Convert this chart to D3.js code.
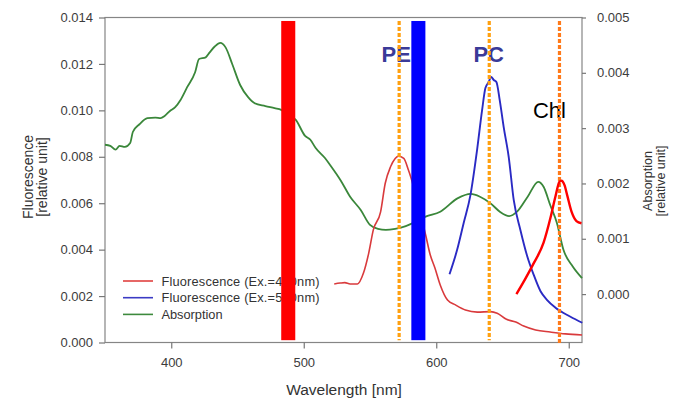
<!DOCTYPE html>
<html>
<head>
<meta charset="utf-8">
<script src="https://cdn.jsdelivr.net/npm/d3@7"></script>
<style>
body { margin: 0; background: #fff; }
text { font-family: "Liberation Sans", Arial, sans-serif; }
</style>
</head>
<body>
<svg id="chart" width="681" height="398"></svg>
<script>
// absorption spectrum (right axis)
var absWl = [350,354,358,361,365,369,371,376,382,388,392,395,399,403,407,412,418,421,426,429,433,437,441,446,452,458,463,471,478,483,488,494,501,505,509,516,520,528,535,543,550,556,562,569,577,581,586,592,603,616,626,633,641,648,655,661,669,677,681,686,691,696,703,710];
var absVal = [0.00270,0.00268,0.00261,0.00268,0.00266,0.00273,0.00293,0.00307,0.00318,0.00319,0.00318,0.00322,0.00331,0.00338,0.00351,0.00374,0.00401,0.00425,0.00428,0.00437,0.00448,0.00454,0.00446,0.00416,0.00378,0.00356,0.00345,0.00340,0.00336,0.00333,0.00325,0.00315,0.00286,0.00279,0.00264,0.00246,0.00233,0.00205,0.00176,0.00152,0.00125,0.00118,0.00116,0.00118,0.00123,0.00127,0.00133,0.00140,0.00149,0.00173,0.00181,0.00176,0.00164,0.00149,0.00141,0.00149,0.00176,0.00203,0.00194,0.00161,0.00129,0.00080,0.00050,0.00029];

// fluorescence, first excitation (left axis)
var fluoAWl = [523,527.5,531,535,540.5,545,549,552.5,558,561.5,565.5,569,571.5,575.5,579,581,586.5,592,595.5,599,603,608.5,614.5,622,631,641,646,653,660,666,675,686,697.5,710];
var fluoAVal = [0.00252,0.00256,0.00258,0.00252,0.00252,0.00298,0.00384,0.00485,0.00563,0.00686,0.00757,0.00793,0.00803,0.00793,0.00743,0.00709,0.00590,0.00463,0.00377,0.00321,0.00248,0.00183,0.00162,0.00140,0.00131,0.00133,0.00126,0.00100,0.00088,0.00071,0.00054,0.00045,0.00037,0.00032];

// fluorescence, second excitation (left axis)
var fluoBWl = [610,615.7,620.7,625.8,630.8,634.6,637.1,639.6,641.4,643.4,645.4,647.9,650.9,654.7,658.5,663.5,668.6,673.6,678.6,683.7,690,701.3,710.2];
var fluoBVal = [0.00294,0.00398,0.00515,0.00635,0.00829,0.01001,0.01096,0.01122,0.01144,0.01131,0.01122,0.01044,0.00928,0.00799,0.00613,0.00485,0.00373,0.00291,0.00222,0.00183,0.00150,0.00111,0.00085];

// hand drawn chlorophyll peak (right axis)
var chlWl = [660.5,667.3,673.4,681,686.2,690,693,694.5,696.8,699,702.1,705.8,709.6];
var chlVal = [0.00000,0.00028,0.00055,0.00093,0.00138,0.00177,0.00203,0.00205,0.00197,0.00177,0.00149,0.00132,0.00128];

// excitation bands and marker lines
var bandFrom = [483, 581.2];
var bandTo = [493.6, 591.8];
var bandColor = ["#ff0000", "#0000ff"];
var markWl = [572, 640, 693];
var markColor = ["#ffa010", "#ffa010", "#ff7a1a"];
var markLabel = ["PE", "PC", "Chl"];
var labelWl = [569.8, 639.6, 685.4];
var labelVal = [0.0121, 0.0121, 0.00968];

var legendNames = ["Fluorescence (Ex.=490nm)", "Fluorescence (Ex.=580nm)", "Absorption"];
var legendColors = ["#e0413f", "#3b3bc4", "#3d8a3d"];

var xTicks = [400, 500, 600, 700];
var yLeftTicks = [0, 0.002, 0.004, 0.006, 0.008, 0.010, 0.012, 0.014];
var yRightTicks = [0, 0.001, 0.002, 0.003, 0.004, 0.005];

var svg = d3.select("#chart");
var plotL = 105, plotR = 582, plotT = 17.5, plotB = 342.5;

var x = d3.scaleLinear().domain([350, 710]).range([plotL, plotR]);
var yL = d3.scaleLinear().domain([0, 0.014]).range([plotB, plotT]);
var yR = d3.scaleLinear().domain([-0.000875, 0.005]).range([plotB, plotT]);

// frame
svg.append("rect")
    .attr("x", plotL).attr("y", plotT)
    .attr("width", plotR - plotL).attr("height", plotB - plotT)
    .attr("fill", "none").attr("stroke", "#858585").attr("stroke-width", 1.2);

function styleAxis(g) {
    g.select(".domain").remove();
    g.selectAll(".tick line").attr("stroke", "#777").attr("stroke-width", 1.2);
    g.selectAll(".tick text").attr("fill", "#3c3c3c")
        .style("font-size", "13px").style("font-family", "'Liberation Sans', Arial, sans-serif");
}

svg.append("g").attr("transform", "translate(" + plotL + ",0)")
    .call(d3.axisLeft(yL).tickValues(yLeftTicks).tickFormat(d3.format(".3f")).tickSize(6).tickPadding(6))
    .call(styleAxis);

svg.append("g").attr("transform", "translate(" + plotR + ",0)")
    .call(d3.axisRight(yR).tickValues(yRightTicks).tickFormat(d3.format(".3f")).tickSize(4).tickPadding(11))
    .call(styleAxis);

svg.append("g").attr("transform", "translate(0," + plotB + ")")
    .call(d3.axisBottom(x).tickValues(xTicks).tickSize(6).tickPadding(9))
    .call(styleAxis);

// axis titles
var lt = svg.append("text").attr("transform", "translate(33,177) rotate(-90)")
    .attr("text-anchor", "middle").attr("fill", "#333").style("font-size", "14px");
lt.append("tspan").attr("x", 0).attr("y", 0).text("Fluorescence");
lt.append("tspan").attr("x", 0).attr("y", 14).text("[relative unit]");

var rt = svg.append("text").attr("transform", "translate(652,181) rotate(-90)")
    .attr("text-anchor", "middle").attr("fill", "#333").style("font-size", "12.5px");
rt.append("tspan").attr("x", 0).attr("y", 0).text("Absorption");
rt.append("tspan").attr("x", 0).attr("y", 13).text("[relative unit]");

svg.append("text").attr("x", 344).attr("y", 395)
    .attr("text-anchor", "middle").attr("fill", "#333").style("font-size", "15.5px")
    .text("Wavelength [nm]");

// curves
function drawLine(wl, vals, yScale, color, width) {
    var pts = wl.map(function (d, i) { return [d, vals[i]]; });
    var line = d3.line()
        .x(function (d) { return x(d[0]); })
        .y(function (d) { return yScale(d[1]); })
        .curve(d3.curveMonotoneX);
    svg.append("path").datum(pts)
        .attr("d", line)
        .attr("fill", "none")
        .attr("stroke", color)
        .attr("stroke-width", width)
        .attr("stroke-linejoin", "round");
}

drawLine(absWl, absVal, yR, "#3a873a", 1.8);
drawLine(fluoAWl, fluoAVal, yL, "#d93a3c", 1.6);
drawLine(fluoBWl, fluoBVal, yL, "#2a2ac4", 1.9);

// legend
var legWidths = [158, 158, 61];
var leg = svg.append("g");
legendNames.forEach(function (name, i) {
    var cy = 281 + i * 16.7;
    leg.append("line").attr("x1", 123).attr("x2", 153).attr("y1", cy).attr("y2", cy)
        .attr("stroke", legendColors[i]).attr("stroke-width", 1.6);
    leg.append("text").attr("x", 161.5).attr("y", cy + 4.5)
        .attr("fill", "#333").style("font-size", "12.8px")
        .attr("textLength", legWidths[i]).attr("lengthAdjust", "spacing")
        .text(name);
});

// labels
markLabel.forEach(function (t, i) {
    svg.append("text")
        .attr("x", x(labelWl[i])).attr("y", yL(labelVal[i]))
        .attr("text-anchor", "middle")
        .attr("fill", i < 2 ? "#3a3a98" : "#000")
        .style("font-size", "22px")
        .style("font-weight", i < 2 ? "bold" : "normal")
        .text(t);
});

// excitation bands
bandFrom.forEach(function (b, i) {
    svg.append("rect")
        .attr("x", x(b)).attr("y", yL(0.01385))
        .attr("width", x(bandTo[i]) - x(b))
        .attr("height", yL(0.0001) - yL(0.01385))
        .attr("fill", bandColor[i]);
});

// dotted marker lines
markWl.forEach(function (w, i) {
    svg.append("line")
        .attr("x1", x(w)).attr("x2", x(w))
        .attr("y1", yL(0.01385)).attr("y2", yL(i == 2 ? -0.00002 : 0.0001))
        .attr("stroke", markColor[i]).attr("stroke-width", 3.2)
        .attr("stroke-dasharray", "4,2");
});

// hand drawn chl peak
drawLine(chlWl, chlVal, yR, "#ff0000", 2.4);
</script>
</body>
</html>
